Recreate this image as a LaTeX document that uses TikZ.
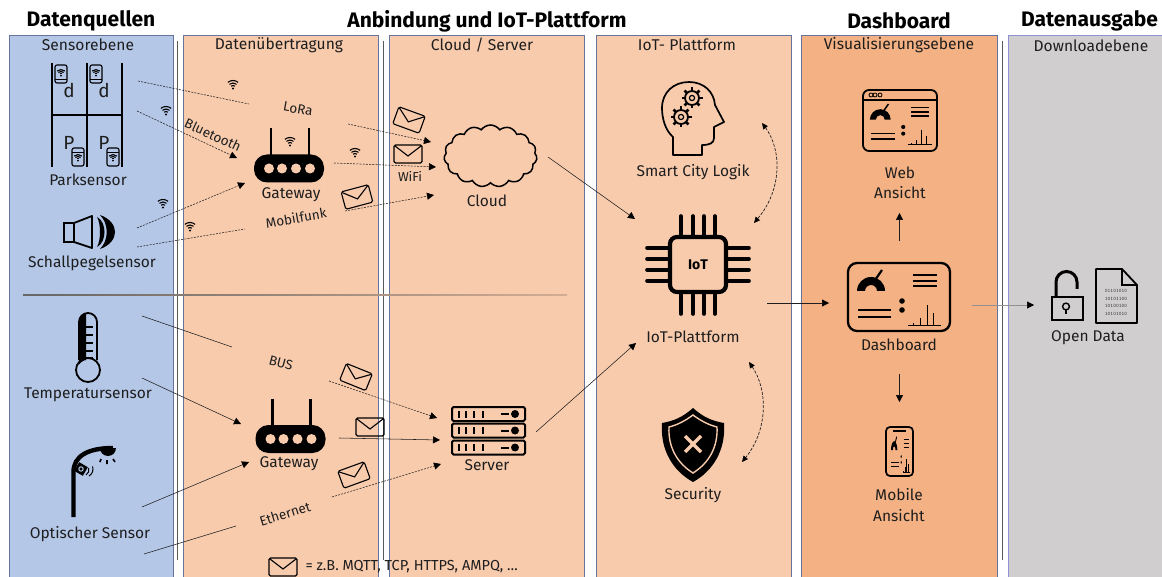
\documentclass[tikz,border=0pt]{standalone}
\usepackage{fontspec}
\setmainfont{Fira Sans}
\usepackage{tikz}
\usetikzlibrary{arrows.meta,shapes.symbols}

\definecolor{panelBlue}{HTML}{B4C7E7}
\definecolor{panelPeach}{HTML}{F8CBAD}
\definecolor{panelOrange}{HTML}{F4B183}
\definecolor{panelGray}{HTML}{D0CECE}
\definecolor{panelEdge}{HTML}{66739C}
\definecolor{inkDark}{HTML}{1E1E1E}

\tikzset{
  panelBox/.style={draw=panelEdge, line width=0.9pt},
  rulerLine/.style={draw=black!65, line width=1pt},
  titleText/.style={font=\fontsize{21}{23}\selectfont\bfseries, text=black},
  subText/.style={font=\fontsize{15.6}{17}\selectfont, text=inkDark},
  iconText/.style={font=\fontsize{15.5}{20.5}\selectfont, text=inkDark, align=center},
  letterText/.style={font=\fontsize{19}{20}\selectfont, text=inkDark},
  linkText/.style={font=\fontsize{13.5}{15}\selectfont, text=inkDark},
  wireDash/.style={draw=inkDark, line width=0.55pt, dash pattern=on 2pt off 1.2pt},
  wirePlain/.style={draw=inkDark, line width=0.55pt},
  tipEnd/.style={-{Triangle[length=7pt,width=7pt,black]}},
  tipBoth/.style={{Triangle[length=6pt,width=5.5pt,black]}-{Triangle[length=6pt,width=5.5pt,black]}},
  pics/mailicon/.style={code={
    \draw[black, line width=1.1pt, rounded corners=1.5pt] (-14,-9) rectangle (14,9);
    \draw[black, line width=1.1pt] (-13,-8) -- (0,2) -- (13,-8);
  }},
  pics/wifiicon/.style={code={
    \fill[black] (0,3.5) circle[radius=1.2pt];
    \foreach \r in {3,5.5,8}
      \draw[black, line width=1.1pt] (0,3.5) ++(50:\r pt) arc[start angle=50, end angle=130, radius=\r pt];
  }},
  pics/tagicon/.style={code={
    \draw[black, line width=1.1pt, rounded corners=2pt] (-6,-9) rectangle (6,9);
    \draw[black, line width=0.9pt] (-6,-5) -- (6,-5);
    \pic[scale=0.75] at (0,1) {wifiicon};
  }},
  pics/routericon/.style={code={
    \draw[black, line width=2.2pt] (-18,-10) -- (-18,-40);
    \draw[black, line width=2.2pt] (20,-10) -- (20,-40);
    \fill[black, rounded corners=13pt] (-35,-14) rectangle (35,14);
    \foreach \px in {-20,-7,7,21}
      \fill[panelPeach] (\px,0) circle[radius=5pt];
  }},
  pics/dashcontent/.style={code={
    \fill[black] (-42,-6) arc[start angle=180, end angle=0, radius=14pt] -- (-22,-6) arc[start angle=0, end angle=180, radius=6pt] -- cycle;
    \draw (-26,-14) -- (-17,-27);
    \foreach \py in {-22,-16,-11}
      \draw (14,\py) -- (38,\py);
    \foreach \py in {13,20}
      \draw (-41,\py) -- (-8,\py);
    \foreach \py in {4,13}
      \fill[black] (3,\py) circle[radius=2.8pt];
    \draw[line width=0.8pt] (9,28) -- (42,28);
    \draw[line width=0.8pt] (14,28) -- (14,26) (21,28) -- (21,21) (28,28) -- (28,8) (34,28) -- (34,16);
  }},
  pics/gearicon/.style={code={
    \foreach \a in {0,45,...,315}
      \draw[black, line width=2.6pt] (\a:7pt) -- (\a:10.5pt);
    \draw[black, line width=1.8pt] (0,0) circle[radius=7pt];
    \draw[black, line width=1.2pt] (0,0) circle[radius=2.6pt];
  }},
  pics/serverrow/.style={code={
    \draw[black, line width=2pt, rounded corners=1.5pt] (-36,-7) rectangle (37,7);
    \foreach \px in {-29,-22,-14,-5}
      \draw[black, line width=2pt] (\px,-3.5) -- (\px,3.5);
    \draw[black, line width=2pt] (13,0) -- (21,0);
    \fill[black] (27,0) circle[radius=4pt];
  }},
}

\begin{document}
\begin{tikzpicture}[x=1pt,y=-1pt]
  \useasboundingbox (0,0) rectangle (1162,577);
  \clip (0,0) rectangle (1162,577);

  % columns
  \draw[panelBox, fill=panelBlue] (9,35) rectangle (173,590);
  \draw[panelBox, fill=panelPeach] (183,35) rectangle (378,590);
  \draw[panelBox, fill=panelPeach] (389,35) rectangle (584,590);
  \draw[panelBox, fill=panelPeach] (596,35) rectangle (791,590);
  \draw[panelBox, fill=panelOrange] (801,35) rectangle (997,590);
  \draw[panelBox, draw=black!10!blue!30!panelGray, fill=panelGray] (1008,35) rectangle (1170,590);
  \draw[rulerLine] (177.5,41) -- (177.5,560);
  \draw[rulerLine] (383.5,41) -- (383.5,560);
  \draw[rulerLine] (1002.5,41) -- (1002.5,560);
  \shade[left color=black!60, right color=black!15!panelPeach] (23,294.6) rectangle (567,295.4);

  % headings
  \node[titleText] (headSource) at (91,21) {Datenquellen};
  \node[titleText] (headLink) at (487,21) {Anbindung und IoT-Plattform};
  \node[titleText] (headDash) at (899,21) {Dashboard};
  \node[titleText] (headOut) at (1089.5,21) {Datenausgabe};
  \node[subText] (subSensor) at (88,45) {Sensorebene};
  \node[subText] (subTransfer) at (279,45) {Datenübertragung};
  \node[subText] (subCloud) at (482,45) {Cloud / Server};
  \node[subText] (subPlatform) at (687,45) {IoT- Plattform};
  \node[subText] (subVisual) at (899,45) {Visualisierungsebene};
  \node[subText] (subDown) at (1091,46) {Downloadebene};

  % parking sensor
  \draw[black, line width=1.8pt] (52,63) -- (52,167) (87,63) -- (87,167) (122,63) -- (122,167);
  \draw[black, line width=1.8pt] (52,115) -- (122,115);
  \node[letterText] (letterDa) at (69,90) {d};
  \node[letterText] (letterDb) at (104,90) {d};
  \node[letterText] (letterPa) at (69,143) {P};
  \node[letterText] (letterPb) at (104,143) {P};
  \pic[rotate=180] at (61,74) {tagicon};
  \pic[rotate=180] at (96,74) {tagicon};
  \pic at (78,157) {tagicon};
  \pic at (113,157) {tagicon};
  \node[iconText] (labPark) at (88,180) {Parksensor};

  % sound sensor
  \draw[black, line width=1.8pt] (64,223) rectangle (74,242);
  \draw[black, line width=1.8pt, line join=round] (74,223) -- (92,216) -- (92,248) -- (74,242);
  \fill[black] (97,217) .. controls (107,222) and (107,242) .. (97,247) .. controls (101,240) and (101,224) .. (97,217) -- cycle;
  \fill[black] (100,215) .. controls (120,222) and (120,242) .. (100,249) .. controls (109,240) and (109,224) .. (100,215) -- cycle;
  \node[iconText] (labSound) at (92,263) {Schallpegelsensor};

  % thermometer
  \fill[black] (79,364) -- (79,322) arc[start angle=180, end angle=90, radius=9pt] -- (86,313) -- (86,364) -- cycle;
  \foreach \ty in {327,335,343,351,358}
    \draw[black, line width=2.2pt] (84,\ty) -- (93,\ty);
  \draw[panelBlue, fill=panelBlue] (88,370) circle[radius=10pt];
  \draw[black, line width=1.8pt] (79,360) -- (79,322) arc[start angle=180, end angle=0, radius=9pt] -- (97,360);
  \draw[black, line width=1.8pt] (88,370) circle[radius=12pt];
  \node[iconText] (labTemp) at (88,394.5) {Temperatursensor};

  % street lamp
  \draw[black, line width=4.4pt] (73.5,517) -- (73.5,472) .. controls (73.5,456) and (88,448) .. (113,448);
  \fill[black] (100,448) arc[start angle=180, end angle=360, radius=8pt] -- cycle;
  \draw[black, line width=1.6pt] (101,459) -- (100,462) (107,460) -- (107,464) (113,459) -- (115,462);
  \fill[black, rotate around={-30:(81,469)}] (76,464) rectangle (86,474);
  \draw[panelBlue, line width=1pt] (81,469) circle[radius=2.2pt];
  \draw[black, line width=1pt] (86,475) arc[start angle=-60, end angle=20, radius=6pt];
  \draw[black, line width=1pt] (89,476) arc[start angle=-60, end angle=20, radius=8pt];
  \node[iconText] (labOptic) at (90,534.5) {Optischer Sensor};

  % wireless marks
  \pic at (233,85) {wifiicon};
  \pic at (166,111) {wifiicon};
  \pic at (290,142) {wifiicon};
  \pic at (355,153) {wifiicon};
  \pic at (163,204) {wifiicon};
  \pic at (190,227) {wifiicon};

  % gateways
  \pic at (289,168.5) {routericon};
  \pic at (290.5,439) {routericon};
  \node[iconText] (labGateA) at (291,194.5) {Gateway};
  \node[iconText] (labGateB) at (289,463.5) {Gateway};

  % messages
  \pic[rotate=-20] at (409,120) {mailicon};
  \pic at (408,154) {mailicon};
  \pic[rotate=15] at (357,197) {mailicon};
  \pic[rotate=-22] at (356,377) {mailicon};
  \pic at (370,427) {mailicon};
  \pic[rotate=20] at (354,475) {mailicon};
  \pic at (283,567) {mailicon};
  \node[font=\fontsize{14.5}{16}\selectfont, text=inkDark, anchor=west] (labLegend) at (302,567) {= z.B. MQTT, TCP, HTTPS, AMPQ, \dots};

  % link names
  \node[linkText, rotate=-10] (labLora) at (298,109) {LoRa};
  \node[linkText, rotate=-25] (labBlue) at (213,135) {Bluetooth};
  \node[linkText, rotate=10] (labMobile) at (296,218) {Mobilfunk};
  \node[font=\fontsize{13}{15}\selectfont, text=inkDark] (labWifi) at (410,176) {WiFi};
  \node[linkText, rotate=-15] (labBus) at (281,363) {BUS};
  \node[linkText, rotate=17] (labEther) at (285,514) {Ethernet};

  % cloud and server
  \node[cloud, draw=black, line width=1.5pt, cloud puffs=15, cloud puff arc=110, aspect=1.6, minimum width=93pt, minimum height=62pt, inner sep=0pt] (cloudShape) at (490.5,156) {};
  \node[iconText] (labCloud) at (487,200.5) {Cloud};
  \pic at (488,414) {serverrow};
  \pic at (488,430.5) {serverrow};
  \pic at (488,447.5) {serverrow};
  \node[iconText] (labServer) at (487,465.5) {Server};

  % smart city logic
  \draw[black, line width=1.7pt, line join=round] (673,155) -- (673,137) .. controls (665,130) and (662,118) .. (662,108)
    .. controls (662,92) and (674,82) .. (689,82) .. controls (704,82) and (714,92) .. (715,105)
    -- (724,122) -- (714,127) -- (714,138) .. controls (714,143) and (710,145) .. (702,145) -- (702,155) -- cycle;
  \pic at (692,98) {gearicon};
  \pic at (681,117) {gearicon};
  \node[iconText] (labLogic) at (693,172) {Smart City Logik};

  % iot chip
  \foreach \px in {681,693,704,715} {
    \draw[black, line width=3.6pt, line cap=round] (\px,216) -- (\px,314);
  }
  \foreach \py in {248,259,270,281} {
    \draw[black, line width=3.6pt, line cap=round] (647,\py) -- (749,\py);
  }
  \draw[black, line width=4.2pt, fill=panelPeach, rounded corners=7pt] (670,237) rectangle (726,292);
  \node[font=\fontsize{14}{15}\selectfont\bfseries, text=black] (labChip) at (698,265) {IoT};
  \node[iconText] (labPlatform) at (693,336.5) {IoT-Plattform};

  % shield
  \fill[black] (693,408) .. controls (703,417) and (712,421) .. (724,423) .. controls (726,450) and (713,471) .. (693,482)
    .. controls (673,471) and (660,450) .. (662,423) .. controls (674,421) and (683,417) .. (693,408) -- cycle;
  \draw[panelPeach, line width=1.4pt] (693,415) .. controls (701,421) and (709,425) .. (717,427) .. controls (718,447) and (709,463) .. (693,473)
    .. controls (677,463) and (668,447) .. (669,427) .. controls (677,425) and (685,421) .. (693,415) -- cycle;
  \draw[panelPeach, line width=3.4pt] (685,436) -- (701,452) (701,436) -- (685,452);
  \node[iconText] (labSecure) at (693,495.5) {Security};

  % dashboard views
  \draw[black, line width=2.3pt, rounded corners=9pt] (848,263) rectangle (950,331);
  \pic[line width=2.2pt] at (899,297) {dashcontent};
  \node[iconText] (labDash) at (899,345) {Dashboard};

  \draw[black, line width=1.8pt, rounded corners=6pt] (863,90) rectangle (937,151);
  \draw[black, line width=1.2pt] (864,100) -- (936,100);
  \foreach \px in {871,875,880}
    \draw[black, line width=0.8pt] (\px,95) circle[radius=2pt];
  \pic[line width=1.5pt, scale=.74] at (901,124) {dashcontent};
  \node[iconText] (labWeb) at (900,183) {Web\\Ansicht};

  \draw[black, line width=1.7pt, rounded corners=4pt] (886,427) rectangle (913,476);
  \draw[black, line width=1.5pt] (893,431) -- (906,431);
  \pic[line width=.9pt, xscale=.226, yscale=.64] at (900.5,454) {dashcontent};
  \node[iconText] (labMobile2) at (899,505) {Mobile\\Ansicht};

  % open data
  \draw[black, line width=3pt] (1056,297) -- (1056,282) arc[start angle=180, end angle=0, radius=10.5pt] -- (1077,289);
  \draw[black, line width=1.6pt] (1052,297) rectangle (1083,320);
  \draw[black, line width=1.4pt] (1066,306.5) circle[radius=3.4pt];
  \draw[black, line width=1.6pt] (1066,310) -- (1066,314);
  \draw[black, line width=1.8pt, line join=round] (1096,269) -- (1122,269) -- (1137,285) -- (1137,323) -- (1096,323) -- cycle;
  \draw[black, line width=1.4pt] (1122,269) -- (1122,285) -- (1137,285);
  \node[font=\fontsize{5.2}{7.6}\selectfont\ttfamily, text=black!80, align=center] (labBits) at (1116,302.5) {01101010\\10101100\\10100100\\10101010};
  \node[iconText] (labOpen) at (1088,338) {Open Data};

  % link end points
  \coordinate (parkLoraA) at (138,81);
  \coordinate (parkLoraB) at (249,104);
  \coordinate (loraOutA) at (348,124);
  \coordinate (loraOutB) at (431,142);
  \coordinate (parkBlueA) at (137,111);
  \coordinate (parkBlueB) at (237,158);
  \coordinate (soundGateA) at (137,228);
  \coordinate (soundGateB) at (245,183);
  \coordinate (soundMobA) at (137,247);
  \coordinate (soundMobB) at (245,229);
  \coordinate (mobOutA) at (345,211);
  \coordinate (mobOutB) at (434,195);
  \coordinate (wifiOutA) at (334,163);
  \coordinate (wifiOutB) at (436,167);
  \coordinate (cloudOut) at (548,157);
  \coordinate (chipInA) at (635,219);
  \coordinate (logicTip) at (762,123);
  \coordinate (chipLogic) at (754,223);
  \coordinate (chipSecure) at (749,362);
  \coordinate (secureTip) at (742,462);
  \coordinate (chipOut) at (767,303);
  \coordinate (dashIn) at (829,303);
  \coordinate (dashOut) at (972,305);
  \coordinate (openIn) at (1034,305);
  \coordinate (dashUpA) at (899.5,241);
  \coordinate (dashUpB) at (899.5,213);
  \coordinate (dashDownA) at (899.5,374);
  \coordinate (dashDownB) at (899.5,402);
  \coordinate (tempBusA) at (142,316);
  \coordinate (tempBusB) at (232,347);
  \coordinate (busOutA) at (329,381);
  \coordinate (busOutB) at (437,418);
  \coordinate (tempGateA) at (142,378);
  \coordinate (tempGateB) at (241,424);
  \coordinate (opticGateA) at (142,507);
  \coordinate (opticGateB) at (249,462);
  \coordinate (opticEthA) at (144,554);
  \coordinate (opticEthB) at (236,526);
  \coordinate (ethOutA) at (332,497);
  \coordinate (ethOutB) at (441,464);
  \coordinate (gateOut) at (339,438);
  \coordinate (serverInB) at (440,440);
  \coordinate (serverOut) at (536,432);
  \coordinate (chipInB) at (636,343);

  % links
  \draw[wireDash] (parkLoraA) -- (parkLoraB);
  \draw[wireDash, tipEnd] (loraOutA) -- (loraOutB);
  \draw[wireDash, tipEnd] (parkBlueA) -- (parkBlueB);
  \draw[wireDash, tipEnd] (soundGateA) -- (soundGateB);
  \draw[wireDash] (soundMobA) -- (soundMobB);
  \draw[wireDash, tipEnd] (mobOutA) -- (mobOutB);
  \draw[wireDash, tipEnd] (wifiOutA) -- (wifiOutB);
  \draw[wirePlain, tipEnd] (cloudOut) -- (chipInA);
  \draw[wireDash, tipBoth, line width=.7pt, dash pattern=on 3pt off 1.5pt] (logicTip) .. controls (782,150) and (782,190) .. (chipLogic);
  \draw[wireDash, tipBoth, line width=.7pt, dash pattern=on 3pt off 1.5pt] (chipSecure) .. controls (768,390) and (768,430) .. (secureTip);
  \draw[wirePlain, tipEnd] (chipOut) -- (dashIn);
  \draw[draw=black!30!panelGray, line width=.6pt, tipEnd] (dashOut) -- (openIn);
  \draw[wirePlain, tipEnd] (dashUpA) -- (dashUpB);
  \draw[wirePlain, tipEnd] (dashDownA) -- (dashDownB);
  \draw[wirePlain] (tempBusA) -- (tempBusB);
  \draw[wireDash, tipEnd] (busOutA) -- (busOutB);
  \draw[wirePlain, tipEnd] (tempGateA) -- (tempGateB);
  \draw[wirePlain, tipEnd] (opticGateA) -- (opticGateB);
  \draw[wirePlain] (opticEthA) -- (opticEthB);
  \draw[wireDash, tipEnd] (ethOutA) -- (ethOutB);
  \draw[wirePlain, tipEnd] (gateOut) -- (serverInB);
  \draw[wirePlain, tipEnd] (serverOut) -- (chipInB);
\end{tikzpicture}
\end{document}
